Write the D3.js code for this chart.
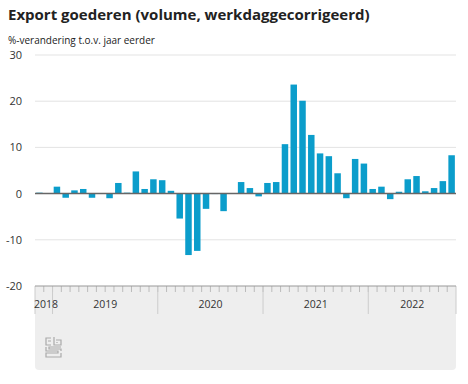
<!DOCTYPE html>
<html>
<head>
<meta charset="utf-8">
<script src="https://cdn.jsdelivr.net/npm/d3@7"></script>
<style>
  body { margin: 0; background: #fff; }
  svg { display: block; font-family: "Open Sans", sans-serif; }
</style>
</head>
<body>
<div id="chart"></div>
<script>
// data
const months = [
  "2018-11","2018-12",
  "2019-01","2019-02","2019-03","2019-04","2019-05","2019-06","2019-07","2019-08","2019-09","2019-10","2019-11","2019-12",
  "2020-01","2020-02","2020-03","2020-04","2020-05","2020-06","2020-07","2020-08","2020-09","2020-10","2020-11","2020-12",
  "2021-01","2021-02","2021-03","2021-04","2021-05","2021-06","2021-07","2021-08","2021-09","2021-10","2021-11","2021-12",
  "2022-01","2022-02","2022-03","2022-04","2022-05","2022-06","2022-07","2022-08","2022-09","2022-10"
];
const values = [
  0.2, 0.1,
  1.5, -0.9, 0.7, 1.0, -0.9, 0.1, -1.0, 2.3, 0.2, 4.8, 1.0, 3.1,
  2.9, 0.6, -5.4, -13.3, -12.4, -3.3, -0.1, -3.8, 0.1, 2.5, 1.2, -0.6,
  2.3, 2.5, 10.7, 23.6, 20.1, 12.7, 8.7, 8.1, 4.4, -1.0, 7.5, 6.5,
  1.0, 1.5, -1.2, 0.4, 3.1, 3.8, 0.5, 1.2, 2.7, 8.3
];
const years = ["2018","2019","2020","2021","2022"];
const yTicks = [30, 20, 10, 0, -10, -20];

const width = 468;
const height = 384;
const margin = { top: 55, left: 35, right: 12, bottom: 98 };

const svg = d3.select('#chart')
  .append('svg')
  .attr('width', width)
  .attr('height', height);

// title
svg.append('text')
  .attr('x', 8).attr('y', 20)
  .attr('font-size', '15px').attr('font-weight', 700)
  .attr('fill', '#222')
  .text('Export goederen (volume, werkdaggecorrigeerd)');
svg.append('text')
  .attr('x', 8).attr('y', 44)
  .attr('font-size', '10px')
  .attr('fill', '#222')
  .text('%-verandering t.o.v. jaar eerder');

// scales
const x = d3.scaleBand()
  .domain(months)
  .range([margin.left, width - margin.right])
  .paddingInner(0.26)
  .paddingOuter(0.13);

const y = d3.scaleLinear()
  .domain([-20, 30])
  .range([height - margin.bottom, margin.top]);

const step = x.step();
const cellStart = m => x(m) - step * x.paddingInner() / 2;
const x0 = margin.left, x1 = width - margin.right;
const axisY = y(-20);

// axis band
svg.append('path')
  .attr('fill', '#eeeeee')
  .attr('d', `M${x0},${axisY}H${x1}V${370 - 4}Q${x1},370 ${x1 - 4},370H${x0 + 4}Q${x0},370 ${x0},${370 - 4}Z`);

// grid
svg.append('g')
  .selectAll('line')
  .data(yTicks.filter(d => d !== 0 && d !== -20))
  .join('line')
    .attr('x1', x0).attr('x2', x1)
    .attr('y1', d => y(d)).attr('y2', d => y(d))
    .attr('stroke', '#e3e3e3');

// y labels
svg.append('g')
  .selectAll('text')
  .data(yTicks)
  .join('text')
    .attr('x', 22)
    .attr('y', d => y(d) + 4)
    .attr('text-anchor', 'end')
    .attr('font-size', '11px')
    .attr('fill', '#333')
    .text(d => d);

// bars
svg.append('g')
  .attr('fill', '#0b9dcb')
  .selectAll('rect')
  .data(values)
  .join('rect')
    .attr('x', (d, i) => x(months[i]))
    .attr('y', d => y(Math.max(0, d)))
    .attr('width', x.bandwidth())
    .attr('height', d => Math.abs(y(d) - y(0)));

// zero line
svg.append('line')
  .attr('x1', x0).attr('x2', x1)
  .attr('y1', y(0)).attr('y2', y(0))
  .attr('stroke', '#666').attr('stroke-width', 1.5);

// month ticks
svg.append('g')
  .selectAll('line')
  .data(months.slice(1))
  .join('line')
    .attr('x1', d => cellStart(d)).attr('x2', d => cellStart(d))
    .attr('y1', axisY).attr('y2', axisY + 6)
    .attr('stroke', '#bbb');

// year ticks
const yearStarts = [x0].concat(months.filter(m => m.endsWith('-01')).map(cellStart), [x1]);
svg.append('g')
  .selectAll('line')
  .data(yearStarts)
  .join('line')
    .attr('x1', d => d).attr('x2', d => d)
    .attr('y1', axisY).attr('y2', axisY + 28)
    .attr('stroke', '#ccc');

svg.append('line')
  .attr('x1', x0).attr('x2', x1)
  .attr('y1', axisY).attr('y2', axisY)
  .attr('stroke', '#999');

// year labels
svg.append('g')
  .selectAll('text')
  .data(years)
  .join('text')
    .attr('x', (d, i) => i === 0 ? x0 - 1 : (yearStarts[i] + yearStarts[i + 1]) / 2)
    .attr('y', axisY + 22)
    .attr('text-anchor', (d, i) => i === 0 ? 'start' : 'middle')
    .attr('font-size', '10.5px')
    .attr('fill', '#333')
    .text(d => d);

// cbs logo
const logo = svg.append('g')
  .attr('transform', 'translate(45,337)')
  .attr('fill', 'none')
  .attr('stroke', '#aaa')
  .attr('stroke-width', 1.2);
logo.append('path').attr('d', 'M6,1H1V8H6 M9,0V8H16V3H11');
logo.append('path').attr('d', 'M3,4H6 M12,6V5');
logo.append('path').attr('d', 'M1,10V14H13V16H1V20H16V16 M16,10H4V12H16V14');
</script>
</body>
</html>
